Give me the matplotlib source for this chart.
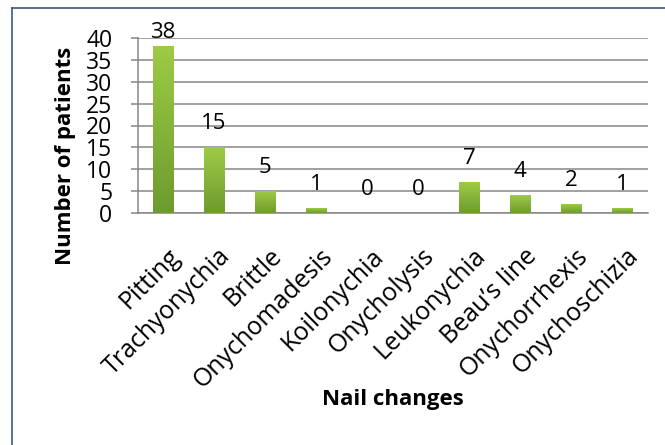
import numpy as np
import matplotlib
matplotlib.use("Agg")
import matplotlib.pyplot as plt
from matplotlib.colors import LinearSegmentedColormap
from matplotlib.lines import Line2D

plt.rcParams['font.family'] = ['Open Sans', 'DejaVu Sans']

categories = ["Pitting", "Trachyonychia", "Brittle", "Onychomadesis", "Koilonychia",
              "Onycholysis", "Leukonychia", "Beau\u2019s line", "Onychorrhexis", "Onychoschizia"]
patients = [38, 15, 5, 1, 0, 0, 7, 4, 2, 1]
y_ticks = [0, 5, 10, 15, 20, 25, 30, 35, 40]

fig = plt.figure(figsize=(6.65, 4.45), dpi=100)
ax = fig.add_axes([137.5 / 665, 1 - 213 / 445, 510 / 665, 175 / 445])

grey = "#868686"
green = LinearSegmentedColormap.from_list("g", ["#6E9B2E", "#9DCB45"])
grad = np.linspace(0, 1, 100).reshape(-1, 1)

x = np.arange(len(categories))
w = 0.4
for xi, v in zip(x, patients):
    if v > 0:
        ax.imshow(grad, extent=[xi - w / 2, xi + w / 2, 0, v], origin="lower",
                  cmap=green, aspect="auto", zorder=3)
    ax.text(xi, min(v + 4.2, 40), str(v), ha="center", va="baseline",
            fontsize=16, color="black", zorder=4, clip_on=False)

ax.set_xlim(-0.5, len(categories) - 0.5)
ax.set_ylim(0, 40)
ax.set_yticks(y_ticks)
ax.yaxis.grid(True, color=grey, linewidth=1.1)
ax.set_axisbelow(True)
for s in ["top", "right"]:
    ax.spines[s].set_visible(False)
for s in ["left", "bottom"]:
    ax.spines[s].set_color(grey)
    ax.spines[s].set_linewidth(1.1)

ax.tick_params(axis="y", length=5, width=1.1, color=grey, labelsize=16.5, pad=13)
ax.set_xticks(x + 0.08)
ax.set_xticklabels(categories, rotation=45, ha="right", va="top",
                   rotation_mode="anchor", fontsize=18)
ax.tick_params(axis="x", length=0, pad=22)

fig.text(393 / 665, 1 - 400 / 445, "Nail changes", ha="center", va="center",
         fontsize=16, fontweight="bold")
fig.text(65 / 665, 1 - 156 / 445, "Number of patients", ha="center", va="center",
         rotation=90, fontsize=16, fontweight="bold")

# outer chart border (only left and top visible in the original)
border = "#3A5A80"
fig.add_artist(Line2D([12 / 665, 12 / 665], [0, 1 - 8 / 445], transform=fig.transFigure,
                      color=border, linewidth=1.2))
fig.add_artist(Line2D([12 / 665, 1], [1 - 8 / 445, 1 - 8 / 445], transform=fig.transFigure,
                      color=border, linewidth=1.2))

fig.savefig("out.png", dpi=100)
